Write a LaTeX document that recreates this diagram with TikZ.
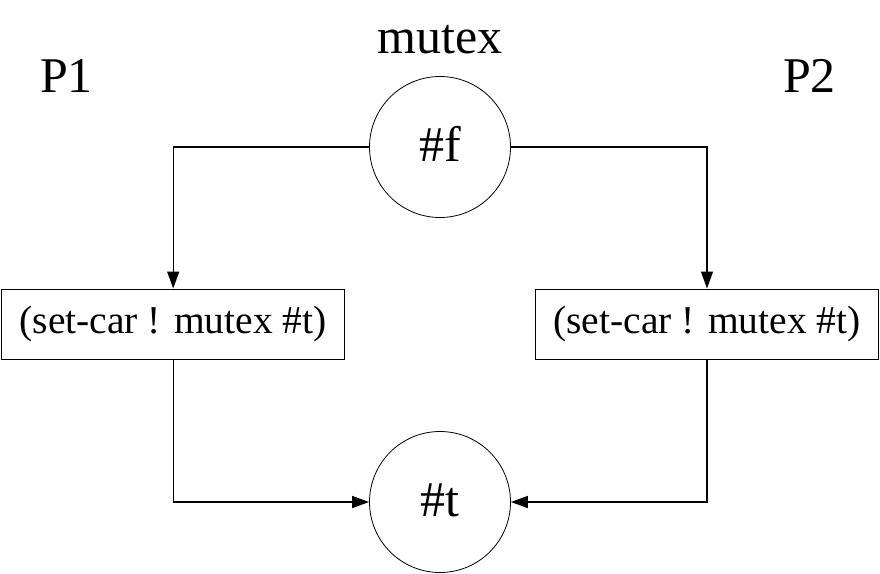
\documentclass[tikz,border=0pt]{standalone}
\usepackage{fontspec}
\setmainfont{Liberation Serif}
\usetikzlibrary{arrows.meta}
\begin{document}
\begin{tikzpicture}[x=1pt,y=-1pt,
  place/.style={circle,draw,line width=0.8pt,minimum size=141pt,inner sep=0pt,text height=34pt,text depth=6pt,font=\fontsize{50}{60}\selectfont},
  actbox/.style={rectangle,draw,line width=1pt,minimum width=343.5pt,minimum height=70pt,inner sep=0pt,font=\fontsize{39.5}{46}\selectfont},
  title/.style={anchor=base,inner sep=0pt,font=\fontsize{50}{60}\selectfont},
  conn/.style={line width=1.4pt,-{Triangle[length=17pt,width=12pt]}}]
\useasboundingbox (0,0) rectangle (880,573);
\node[place] (f) at (440,147) {\#f};
\node[place] (t) at (440,502) {\#t};
\node[actbox] (b1) at (173.2,324) {(set-car ! mutex \#t)};
\node[actbox] (b2) at (707,324) {(set-car ! mutex \#t)};
\node[title] (mx) at (440,53) {mutex};
\node[title] (p1) at (66.5,92) {P1};
\node[title] (p2) at (809.5,92) {P2};
\draw[conn] (f.west) -| (b1.north);
\draw[conn] (f.east) -| (b2.north);
\draw[conn] (b1.south) |- (t.west);
\draw[conn] (b2.south) |- (t.east);
\end{tikzpicture}
\end{document}
